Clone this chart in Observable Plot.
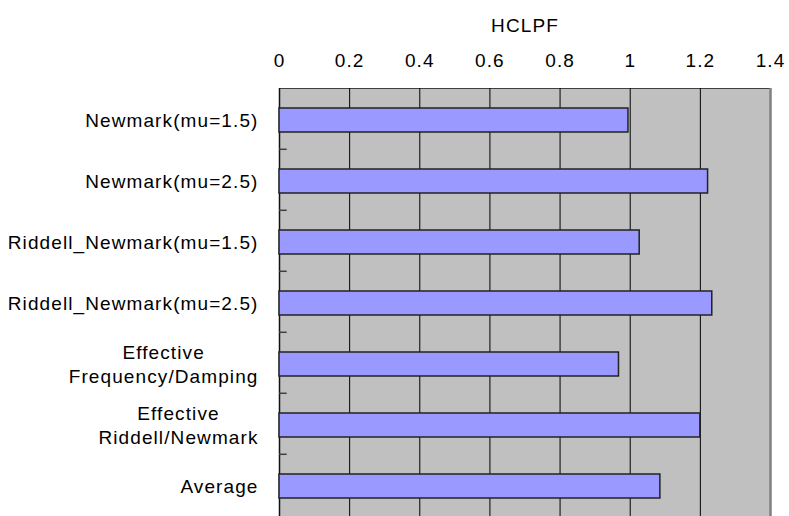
<!DOCTYPE html>
<html>
<head>
<meta charset="utf-8">
<script src="https://cdn.jsdelivr.net/npm/d3@7"></script>
<script src="https://cdn.jsdelivr.net/npm/@observablehq/plot@0.6"></script>
<style>
  html, body { margin: 0; padding: 0; background: #ffffff; }
  #chart svg { display: block; }
</style>
</head>
<body>
<div id="chart"></div>
<script>
// HCLPF estimates by method
const methods = [
  "Newmark(mu=1.5)",
  "Newmark(mu=2.5)",
  "Riddell_Newmark(mu=1.5)",
  "Riddell_Newmark(mu=2.5)",
  "Effective\nFrequency/Damping",
  "Effective\nRiddell/Newmark",
  "Average"
];
const hclpf = [0.995, 1.222, 1.027, 1.234, 0.968, 1.2, 1.086];
const xTicks = [0, 0.2, 0.4, 0.6, 0.8, 1, 1.2, 1.4];
const axisTitle = "HCLPF";

const rows = methods.map((m, i) => ({method: m, value: hclpf[i]}));

// layout
const W = 789, H = 516;
const mTop = 88, mLeft = 279, mRight = 19, mBottom = -2;
const fontFamily = "'Liberation Sans', Arial, Helvetica, sans-serif";
const fontSize = 19;
const letterSpacing = 1.1;
const labelGap = 21;
const bandStep = (H - mBottom - mTop) / methods.length;

// width of a text line with the chart font (letter spacing included)
const ctx = document.createElement("canvas").getContext("2d");
ctx.font = `${fontSize}px ${fontFamily}`;
const lineWidth = s => ctx.measureText(s).width + letterSpacing * s.length;

const singleLine = methods.filter(m => !m.includes("\n"));
const multiLine = methods.filter(m => m.includes("\n"));

const textStyle = {fill: "#000", fontSize, fontFamily};

const marks = [
  Plot.frame({fill: "#c0c0c0", stroke: "#404040"}),
  Plot.ruleX(xTicks.filter(t => t > 0 && t < 1.4), {stroke: "#000", strokeWidth: 1}),
  Plot.ruleX([1.4], {stroke: "#808080", strokeWidth: 2.5}),
  Plot.ruleX([0], {stroke: "#111", strokeWidth: 1.5}),
  // tick dashes between categories
  Plot.ruleY(methods.slice(1), {y: d => d, x1: 0, x2: 0.022, dy: -bandStep / 2 - 1.5, stroke: "#404040", strokeWidth: 1.5}),
  Plot.barX(rows, {y: "method", x: "value", fill: "#9999ff", stroke: "#222", strokeWidth: 1.5}),
  Plot.axisX({anchor: "top", ticks: xTicks, tickSize: 0, tickPadding: 22, tickFormat: d => String(d), ...textStyle, label: null}),
  Plot.text([axisTitle], {frameAnchor: "top", dy: -63, lineAnchor: "middle", ...textStyle}),
  Plot.text(singleLine, {y: d => d, frameAnchor: "left", textAnchor: "end", dx: -labelGap, lineAnchor: "middle", ...textStyle}),
  ...multiLine.map(m => {
    const w = d3.max(m.split("\n"), lineWidth);
    return Plot.text([m], {y: d => d, frameAnchor: "left", textAnchor: "middle", dx: -(labelGap + w / 2), dy: -1.5, lineAnchor: "middle", lineHeight: 1.3, ...textStyle});
  })
];

const chart = Plot.plot({
  width: W,
  height: H,
  marginTop: mTop,
  marginLeft: mLeft,
  marginRight: mRight,
  marginBottom: mBottom,
  style: {fontFamily, fontSize: fontSize + "px", letterSpacing: letterSpacing + "px", background: "#fff", overflow: "hidden"},
  x: {domain: [0, 1.4], axis: null},
  y: {domain: methods, axis: null, paddingInner: 0.6, paddingOuter: 0.3},
  marks
});
document.getElementById("chart").appendChild(chart);
</script>
</body>
</html>
